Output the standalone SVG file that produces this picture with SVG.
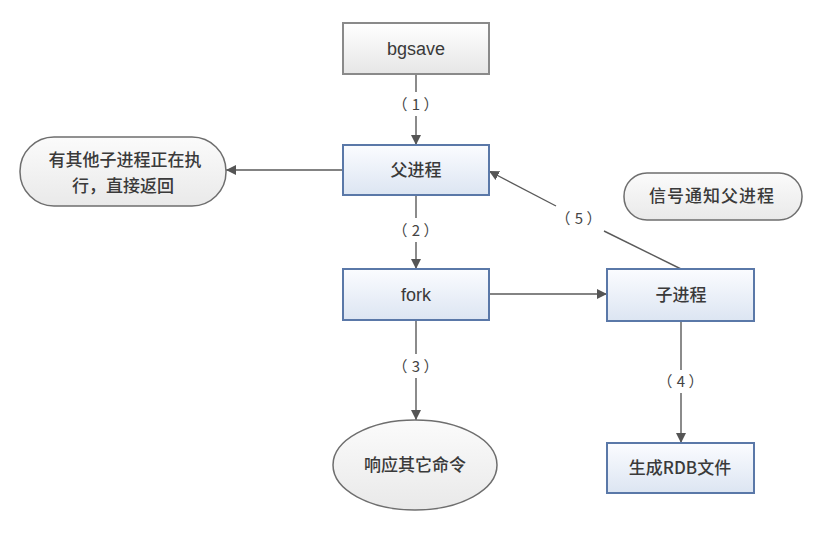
<svg xmlns="http://www.w3.org/2000/svg" width="824" height="545" viewBox="0 0 824 545">
<defs>
<linearGradient id="gGray" x1="0" y1="0" x2="0" y2="1"><stop offset="0" stop-color="#ffffff"/><stop offset="1" stop-color="#e6e6e6"/></linearGradient>
<linearGradient id="gBlue" x1="0" y1="0" x2="0" y2="1"><stop offset="0" stop-color="#fbfcff"/><stop offset="1" stop-color="#dce5f2"/></linearGradient>
<linearGradient id="gOval" x1="0" y1="0" x2="0" y2="1"><stop offset="0" stop-color="#fbfbfb"/><stop offset="1" stop-color="#e9e9e9"/></linearGradient>
<marker id="arr" viewBox="0 0 10 10" refX="10" refY="5" markerWidth="10" markerHeight="10" markerUnits="userSpaceOnUse" orient="auto"><path d="M0,0 L10,5 L0,10 z" fill="#555"/></marker>
<style>
.gray{fill:url(#gGray);stroke:#8a8a8a;stroke-width:2}
.blue{fill:url(#gBlue);stroke:#5a78a8;stroke-width:2}
.oval{fill:url(#gOval);stroke:#6e6e6e;stroke-width:1.5}
.t{font-family:"Liberation Sans","Noto Sans CJK SC",sans-serif;font-size:18px;fill:#3a3a3a;text-anchor:middle}
.c{font-family:"Noto Sans CJK SC",sans-serif;font-size:17px;fill:#3a3a3a;text-anchor:middle;font-weight:500}
.lbl{font-family:"Noto Sans CJK SC",sans-serif;font-size:15px;fill:#444;text-anchor:middle}
.ln{fill:none;stroke:#5a5a5a;stroke-width:1.4}
</style>
</defs>
<rect width="824" height="545" fill="#ffffff"/>
<g id="connectors">
<path class="ln" d="M416,74 V92"/><path class="ln" d="M416,116 V145" marker-end="url(#arr)"/>
<text class="lbl" x="400 416 431" y="110">（1）</text>
<path class="ln" d="M343,170 H226" marker-end="url(#arr)"/>
<path class="ln" d="M416,195 V218"/><path class="ln" d="M416,242 V269" marker-end="url(#arr)"/>
<text class="lbl" x="400 416 431" y="236">（2）</text>
<path class="ln" d="M489,294 H607" marker-end="url(#arr)"/>
<path class="ln" d="M416,320 V354"/><path class="ln" d="M416,378 V420" marker-end="url(#arr)"/>
<text class="lbl" x="400 416 431" y="372">（3）</text>
<path class="ln" d="M681,321 V370"/><path class="ln" d="M681,393 V443" marker-end="url(#arr)"/>
<text class="lbl" x="665 681 696" y="387">（4）</text>
<path class="ln" d="M681,269 L604,231"/><path class="ln" d="M556,206 L489,171" marker-end="url(#arr)"/>
<text class="lbl" x="563 579 594" y="224">（5）</text>
</g>
<g id="bgsave"><rect class="gray" x="343" y="23" width="146" height="51"/><text class="t" x="416" y="55">bgsave</text></g>
<g id="parent"><rect class="blue" x="343" y="145" width="146" height="50"/><text class="c" x="416" y="176">父进程</text></g>
<g id="return"><rect class="oval" x="20" y="137" width="206" height="69" rx="34" ry="34"/><text class="c" x="125" y="166">有其他子进程正在执</text><text class="c" x="123" y="192">行，直接返回</text></g>
<g id="signal"><rect class="oval" x="624" y="173" width="178" height="47" rx="23" ry="23"/><text class="c" x="712" y="202" letter-spacing="1">信号通知父进程</text></g>
<g id="fork"><rect class="blue" x="343" y="269" width="146" height="51"/><text class="t" x="416" y="301">fork</text></g>
<g id="child"><rect class="blue" x="607" y="269" width="147" height="52"/><text class="c" x="681" y="301">子进程</text></g>
<g id="respond"><ellipse class="oval" cx="415" cy="465" rx="82" ry="45"/><text class="c" x="415" y="471">响应其它命令</text></g>
<g id="rdb"><rect class="blue" x="607" y="443" width="147" height="50"/><text class="c" x="680" y="474">生成RDB文件</text></g>
</svg>
